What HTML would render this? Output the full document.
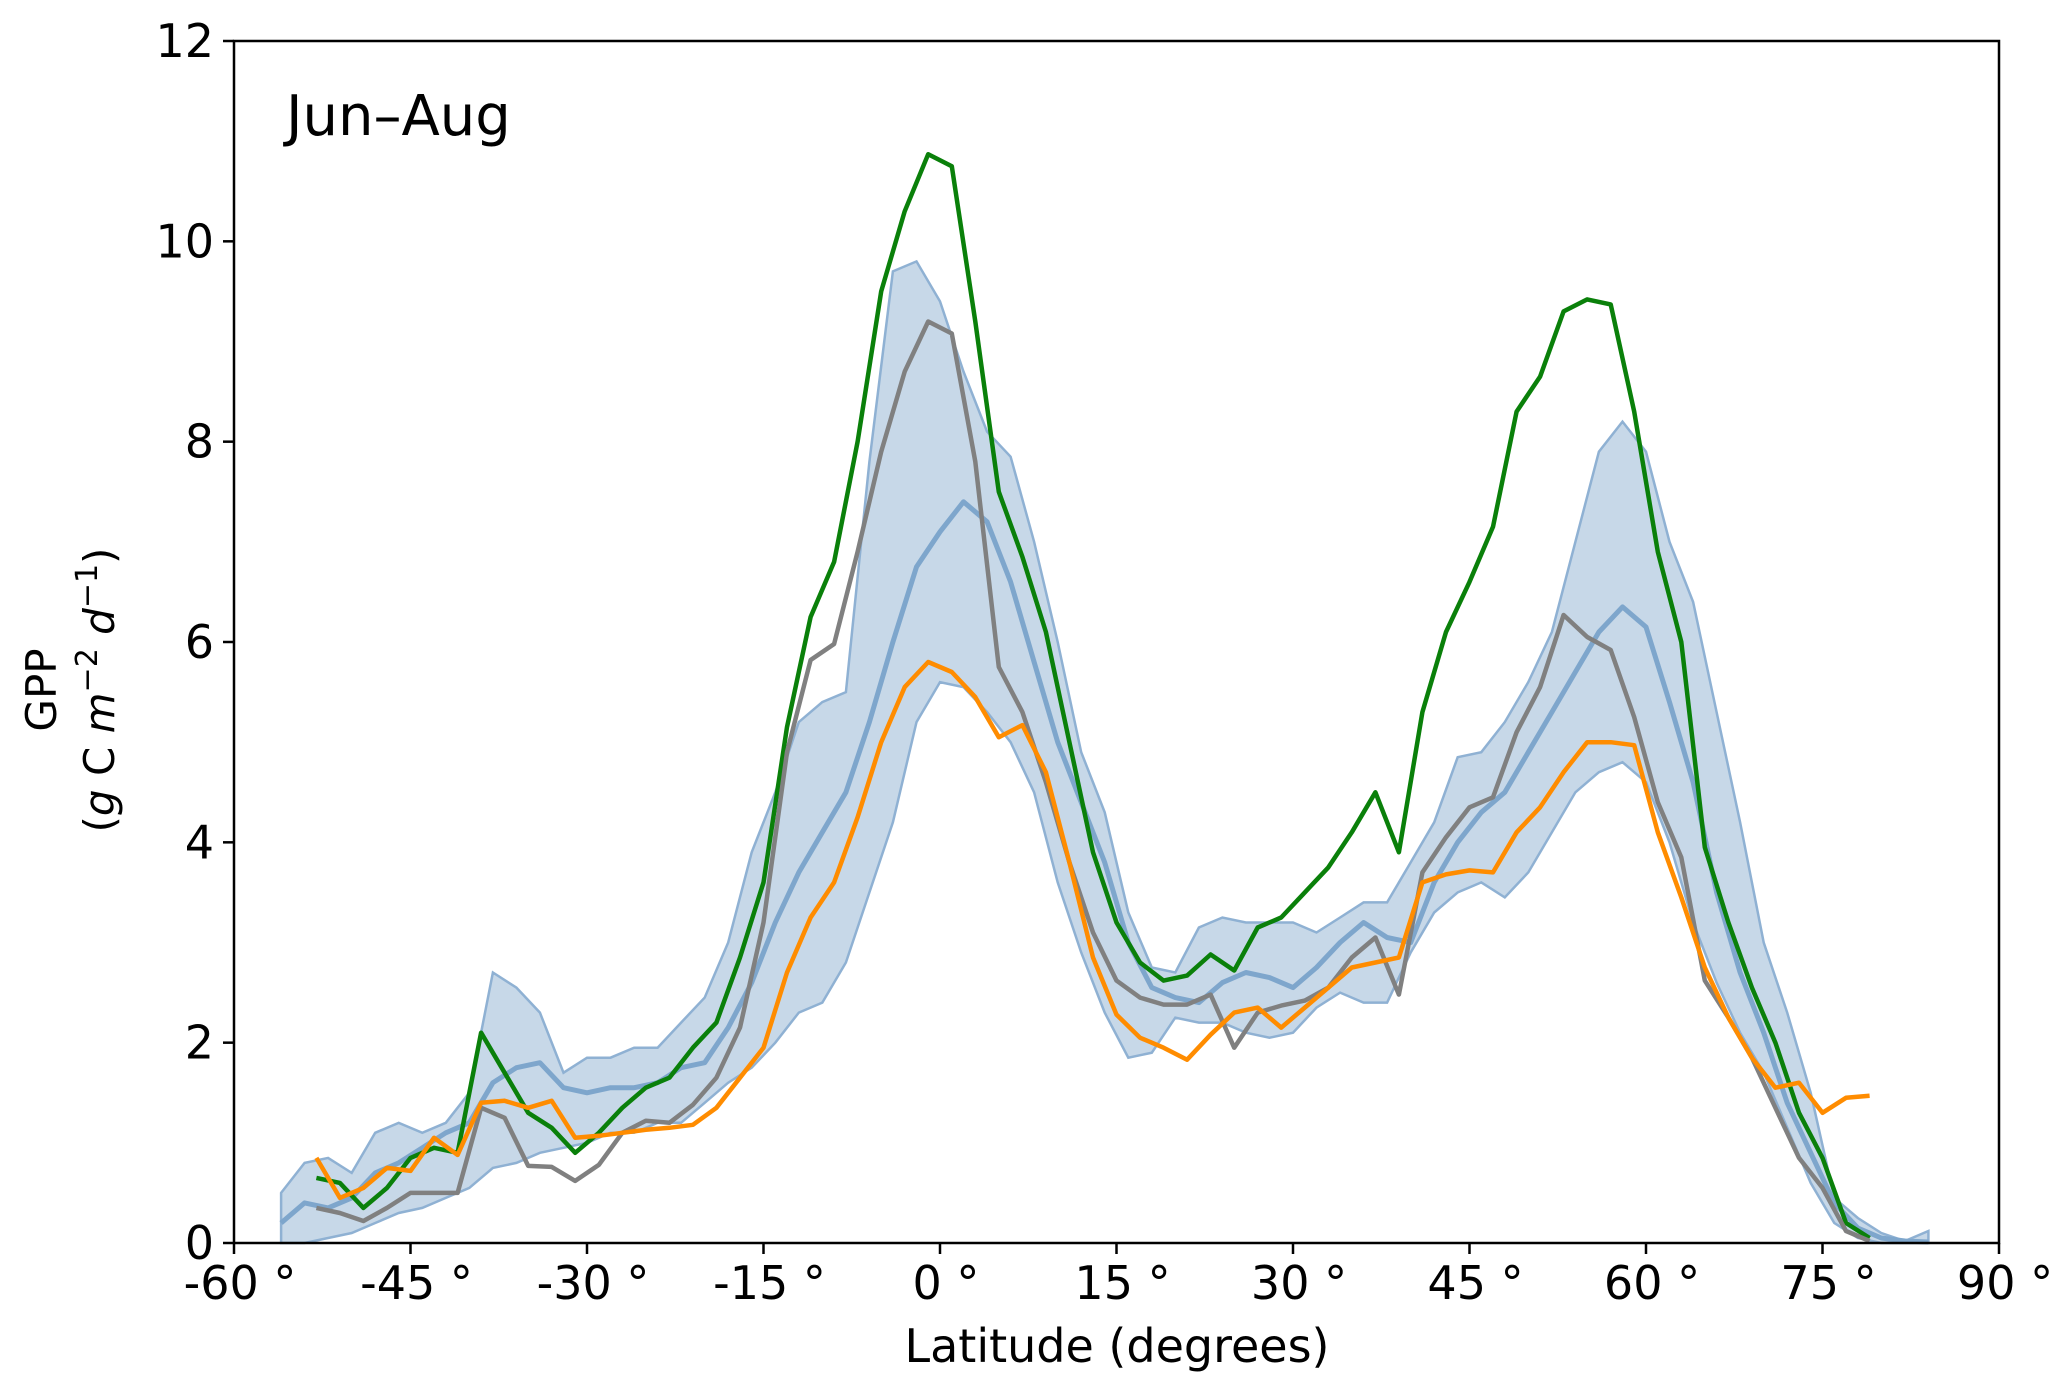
<!DOCTYPE html>
<html><head><meta charset="utf-8"><style>
html,body{margin:0;padding:0;background:#fff;}
svg{display:block;font-family:"DejaVu Sans","Liberation Sans",sans-serif;}
</style></head><body>
<svg id="chart" width="2067" height="1399" viewBox="0 0 2067 1399">
<g id="band"></g>
<g id="lines"></g>
<g id="axes"></g>
<text x="286" y="135" font-size="56">Jun–Aug</text>
<text x="1117" y="1362" font-size="46" text-anchor="middle">Latitude (degrees)</text>
<g transform="translate(56,690) rotate(-90)">
<text x="0" y="0" font-size="42" text-anchor="middle">GPP</text>
<text x="0" y="58" font-size="42" text-anchor="middle">(<tspan font-style="italic">g</tspan> C <tspan font-style="italic">m</tspan><tspan font-size="30" dy="-17">−2</tspan><tspan dy="17"> </tspan><tspan font-style="italic">d</tspan><tspan font-size="30" dy="-17">−1</tspan><tspan dy="17">)</tspan></text>
</g>
</svg>
<script>
const seriesLat = [-53,-51,-49,-47,-45,-43,-41,-39,-37,-35,-33,-31,-29,-27,-25,-23,-21,-19,-17,-15,-13,-11,-9,-7,-5,-3,-1,1,3,5,7,9,11,13,15,17,19,21,23,25,27,29,31,33,35,37,39,41,43,45,47,49,51,53,55,57,59,61,63,65,67,69,71,73,75,77,79];
const greenValues = [0.65,0.6,0.35,0.55,0.85,0.95,0.9,2.1,1.7,1.3,1.15,0.9,1.1,1.35,1.55,1.65,1.95,2.2,2.85,3.6,5.15,6.25,6.8,8.0,9.5,10.3,10.87,10.75,9.2,7.5,6.85,6.1,5.0,3.9,3.2,2.8,2.62,2.67,2.88,2.72,3.15,3.25,3.5,3.75,4.1,4.5,3.9,5.3,6.1,6.6,7.15,8.3,8.65,9.3,9.42,9.37,8.3,6.9,6.0,3.95,3.2,2.55,2.0,1.3,0.85,0.2,0.05];
const grayValues = [0.35,0.3,0.22,0.35,0.5,0.5,0.5,1.35,1.25,0.77,0.76,0.62,0.78,1.1,1.22,1.2,1.38,1.65,2.15,3.2,4.9,5.82,5.98,6.9,7.9,8.7,9.2,9.08,7.8,5.75,5.3,4.6,3.8,3.1,2.62,2.45,2.38,2.38,2.48,1.95,2.3,2.37,2.42,2.55,2.85,3.05,2.48,3.7,4.05,4.35,4.45,5.1,5.55,6.27,6.05,5.92,5.25,4.4,3.85,2.62,2.25,1.85,1.35,0.85,0.55,0.12,0.02];
const orangeValues = [0.85,0.45,0.55,0.75,0.72,1.05,0.88,1.4,1.42,1.35,1.42,1.05,1.07,1.1,1.13,1.15,1.18,1.35,1.65,1.95,2.7,3.25,3.6,4.25,5.0,5.55,5.8,5.7,5.45,5.05,5.17,4.7,3.8,2.85,2.28,2.05,1.95,1.83,2.08,2.3,2.35,2.15,2.35,2.55,2.75,2.8,2.85,3.6,3.68,3.72,3.7,4.1,4.35,4.7,5.0,5.0,4.97,4.1,3.45,2.75,2.25,1.85,1.55,1.6,1.3,1.45,1.47];
const bandLat = [-56,-54,-52,-50,-48,-46,-44,-42,-40,-38,-36,-34,-32,-30,-28,-26,-24,-22,-20,-18,-16,-14,-12,-10,-8,-6,-4,-2,0,2,4,6,8,10,12,14,16,18,20,22,24,26,28,30,32,34,36,38,40,42,44,46,48,50,52,54,56,58,60,62,64,66,68,70,72,74,76,78,80,82,84];
const meanValues = [0.2,0.4,0.35,0.45,0.7,0.8,0.95,1.1,1.2,1.6,1.75,1.8,1.55,1.5,1.55,1.55,1.6,1.75,1.8,2.15,2.6,3.2,3.7,4.1,4.5,5.2,6.0,6.75,7.1,7.4,7.2,6.6,5.8,5.0,4.4,3.8,3.0,2.55,2.45,2.4,2.6,2.7,2.65,2.55,2.75,3.0,3.2,3.05,3.0,3.6,4.0,4.3,4.5,4.9,5.3,5.7,6.1,6.35,6.15,5.4,4.6,3.5,2.7,2.1,1.4,0.9,0.4,0.15,0.05,0.02,0.01];
const lowerValues = [0,0,0.05,0.1,0.2,0.3,0.35,0.45,0.55,0.75,0.8,0.9,0.95,1.0,1.1,1.1,1.2,1.2,1.4,1.6,1.75,2.0,2.3,2.4,2.8,3.5,4.2,5.2,5.6,5.55,5.3,5.0,4.5,3.6,2.9,2.3,1.85,1.9,2.25,2.2,2.2,2.1,2.05,2.1,2.35,2.5,2.4,2.4,2.9,3.3,3.5,3.6,3.45,3.7,4.1,4.5,4.7,4.8,4.6,4.0,3.2,2.6,2.1,1.7,1.15,0.6,0.2,0.05,0,0,0];
const upperValues = [0.5,0.8,0.85,0.7,1.1,1.2,1.1,1.2,1.5,2.7,2.55,2.3,1.7,1.85,1.85,1.95,1.95,2.2,2.45,3.0,3.9,4.5,5.2,5.4,5.5,7.8,9.7,9.8,9.4,8.7,8.1,7.85,7.0,6.0,4.9,4.3,3.3,2.75,2.7,3.15,3.25,3.2,3.2,3.2,3.1,3.25,3.4,3.4,3.8,4.2,4.85,4.9,5.2,5.6,6.1,7.0,7.9,8.2,7.9,7.0,6.4,5.3,4.2,3.0,2.3,1.5,0.45,0.25,0.1,0.02,0.12];
const xTicks = [-60,-45,-30,-15,0,15,30,45,60,75,90];
const yTicks = [0,2,4,6,8,10,12];

const L=234,R=1999,T=41,B=1243;
const X = lat => L + (lat+60)/150*(R-L);
const Y = v => B - v/12*(B-T);
const NS='http://www.w3.org/2000/svg';
function mk(tag, attrs, parent){const e=document.createElementNS(NS,tag);for(const k in attrs)e.setAttribute(k,attrs[k]);parent.appendChild(e);return e;}

const band=document.getElementById('band');
let d='M'+bandLat.map((l,i)=>X(l).toFixed(1)+','+Y(upperValues[i]).toFixed(1)).join('L');
for(let i=bandLat.length-1;i>=0;i--) d+='L'+X(bandLat[i]).toFixed(1)+','+Y(lowerValues[i]).toFixed(1);
d+='Z';
const bp=mk('path',{d:d,fill:'#a9c3dc',stroke:'#8fb1d3','stroke-width':2.5,'fill-opacity':0.65},band);



const lines=document.getElementById('lines');
function line(lats, vals, color, name, w){
  const p=mk('polyline',{points:lats.map((l,i)=>X(l).toFixed(1)+','+Y(vals[i]).toFixed(1)).join(' '),fill:'none',stroke:color,'stroke-width':w,'stroke-linejoin':'round'},lines);
  
  
}
line(bandLat, meanValues, '#7ea6cc', 'ensemble-mean-line', 5);
line(seriesLat, greenValues, '#0a800a', 'green-series-line', 4.5);
line(seriesLat, grayValues, '#808080', 'gray-series-line', 4.5);
line(seriesLat, orangeValues, '#ff8c00', 'orange-series-line', 4.5);

const axes=document.getElementById('axes');
const fr=mk('rect',{x:L,y:T,width:R-L,height:B-T,fill:'none',stroke:'#000','stroke-width':2.5},axes);


xTicks.forEach(t=>{
  const x=X(t);
  const tk=mk('line',{x1:x,x2:x,y1:B,y2:B+11,stroke:'#000','stroke-width':2.5},axes);
  
  
  const tx=mk('text',{x:x+6,y:B+56,'font-size':46,'text-anchor':'middle'},axes);
  tx.textContent=t+' °';
  
  
});
yTicks.forEach(t=>{
  const y=Y(t);
  const tk=mk('line',{x1:L-11,x2:L,y1:y,y2:y,stroke:'#000','stroke-width':2.5},axes);
  
  
  const tx=mk('text',{x:L-20,y:y+16,'font-size':46,'text-anchor':'end'},axes);
  tx.textContent=t;
  
  
});
</script>
</body></html>
